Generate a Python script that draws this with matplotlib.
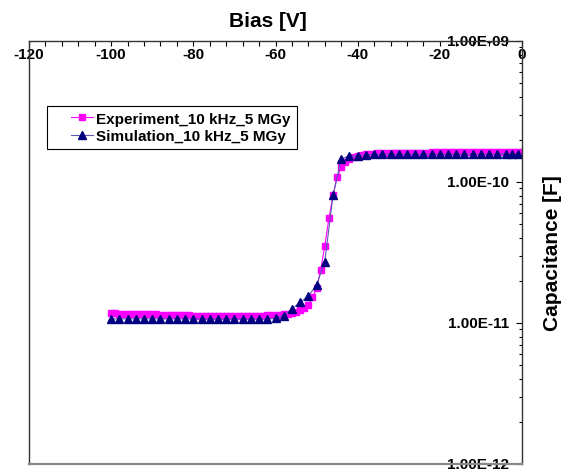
import numpy as np
import matplotlib.pyplot as plt
from matplotlib.legend_handler import HandlerLine2D
from matplotlib.ticker import LogLocator, MultipleLocator, NullFormatter, FuncFormatter

plt.rcParams['font.family'] = ['Liberation Sans', 'DejaVu Sans']
plt.rcParams['font.weight'] = 'bold'
plt.rcParams['axes.unicode_minus'] = False

# measured C-V at 10 kHz, 1 V steps (capacitance in pF)
exp_bias = np.arange(-100, 1, 1)
exp_cap_pf = [
    11.7, 11.7, 11.6, 11.6, 11.6, 11.6, 11.5, 11.5, 11.5, 11.5,
    11.5, 11.5, 11.4, 11.4, 11.4, 11.4, 11.4, 11.4, 11.4, 11.4,
    11.3, 11.3, 11.3, 11.3, 11.3, 11.3, 11.3, 11.3, 11.3, 11.3,
    11.3, 11.3, 11.3, 11.3, 11.3, 11.3, 11.3, 11.3, 11.4, 11.4,
    11.4, 11.4, 11.5, 11.6, 11.8, 12.0, 12.3, 12.7, 13.5, 15.2,
    17.7, 23.7, 35.3, 55.2, 80.5, 108.0, 127.0, 138.0, 145.0, 150.0,
    153.0, 155.0, 157.0, 158.0, 159.0, 159.5, 160.0, 160.0, 160.5, 160.5,
    161.0, 161.0, 161.0, 161.0, 161.5, 161.5, 161.5, 161.5, 162.0, 162.0,
    162.0, 162.0, 162.0, 162.0, 162.5, 162.5, 162.5, 162.5, 162.5, 162.5,
    163.0, 163.0, 163.0, 163.0, 163.0, 163.0, 163.0, 163.0, 163.0, 163.0,
    163.0,
]

# simulated curve, 2 V steps plus the last points near 0 V
sim_bias = np.concatenate([np.arange(-100, -3, 2), [-2.5, -1]])
sim_cap_pf = [
    10.7, 10.7, 10.7, 10.7, 10.7, 10.7, 10.7, 10.7, 10.7, 10.7,
    10.7, 10.7, 10.7, 10.7, 10.7, 10.7, 10.7, 10.7, 10.7, 10.7,
    10.8, 11.3, 12.6, 14.0, 15.5, 18.6, 27.3, 80.5, 146.0, 152.0,
    154.0, 156.0, 157.0, 157.0, 157.5, 157.5, 157.5, 157.5, 157.5, 157.5,
    158.0, 158.0, 158.0, 158.0, 158.0, 158.0, 158.0, 158.0, 158.0, 158.0,
    158.0,
]


class ShortLine(HandlerLine2D):
    # draw the legend line only over the right part of the handle box
    def create_artists(self, legend, orig_handle, xdescent, ydescent,
                       width, height, fontsize, trans):
        shift = width * 0.45
        return super().create_artists(legend, orig_handle, xdescent - shift, ydescent,
                                      width - shift, height, fontsize, trans)


fig = plt.figure(figsize=(5.69, 4.77), dpi=100)
ax = fig.add_axes([29 / 569, 12 / 477, 493 / 569, 423 / 477])

l1, = ax.plot(exp_bias, np.array(exp_cap_pf) * 1e-12, color='#ff00ff', lw=0.8,
              marker='s', ms=4.5, mfc='#ff00ff', mec='#ff00ff',
              label='Experiment_10 kHz_5 MGy')
l2, = ax.plot(sim_bias, np.array(sim_cap_pf) * 1e-12, color='#5a5ab4', lw=0.8,
              marker='^', ms=5.3, mfc='#000080', mec='#000080',
              label='Simulation_10 kHz_5 MGy')

ax.set_yscale('log')
ax.set_xlim(-120, 0)
ax.set_ylim(1e-12, 1e-9)

# x axis on top, labels hanging inside the plot
ax.xaxis.tick_top()
ax.set_xticks(np.arange(-120, 1, 20))
ax.xaxis.set_minor_locator(MultipleLocator(4))
ax.tick_params(axis='x', which='both', direction='in', length=3.5, width=0.8,
               pad=-14.5, labelsize=11, colors='black')

# y axis on the right, labels inside
ax.yaxis.tick_right()
ax.yaxis.set_major_locator(LogLocator(base=10, numticks=10))
ax.yaxis.set_minor_locator(LogLocator(base=10, subs=np.arange(2, 10), numticks=10))
ax.yaxis.set_minor_formatter(NullFormatter())
ax.yaxis.set_major_formatter(FuncFormatter(lambda v, p: f'{v:.2E}'))
ax.tick_params(axis='y', which='major', direction='in', length=4, width=0.8,
               pad=-9.5, labelsize=11)
ax.tick_params(axis='y', which='minor', direction='in', length=2.5, width=0.8)
plt.setp(ax.get_yticklabels(), ha='right', va='center')

ax.xaxis.set_label_position('top')
ax.set_xlabel('Bias [V]', fontsize=15, fontweight='bold')
ax.xaxis.set_label_coords(0.485, 1.036)
ax.yaxis.set_label_position('right')
ax.set_ylabel('Capacitance [F]', fontsize=15, fontweight='bold', labelpad=12)

for side in ['top', 'right', 'left']:
    ax.spines[side].set_color('#333333')
    ax.spines[side].set_linewidth(1.0)
ax.spines['bottom'].set_color('#888888')
ax.spines['bottom'].set_linewidth(1.6)

leg = ax.legend(handles=[l1, l2], loc='upper left', bbox_to_anchor=(0.0365, 0.847),
                borderaxespad=0, fontsize=11, handlelength=2.6, handletextpad=0.25,
                labelspacing=0.25, borderpad=0.38, fancybox=False, framealpha=1,
                edgecolor='black', handler_map={l1: ShortLine(), l2: ShortLine()})
leg.get_frame().set_linewidth(0.8)

fig.savefig('out.png', dpi=100)
